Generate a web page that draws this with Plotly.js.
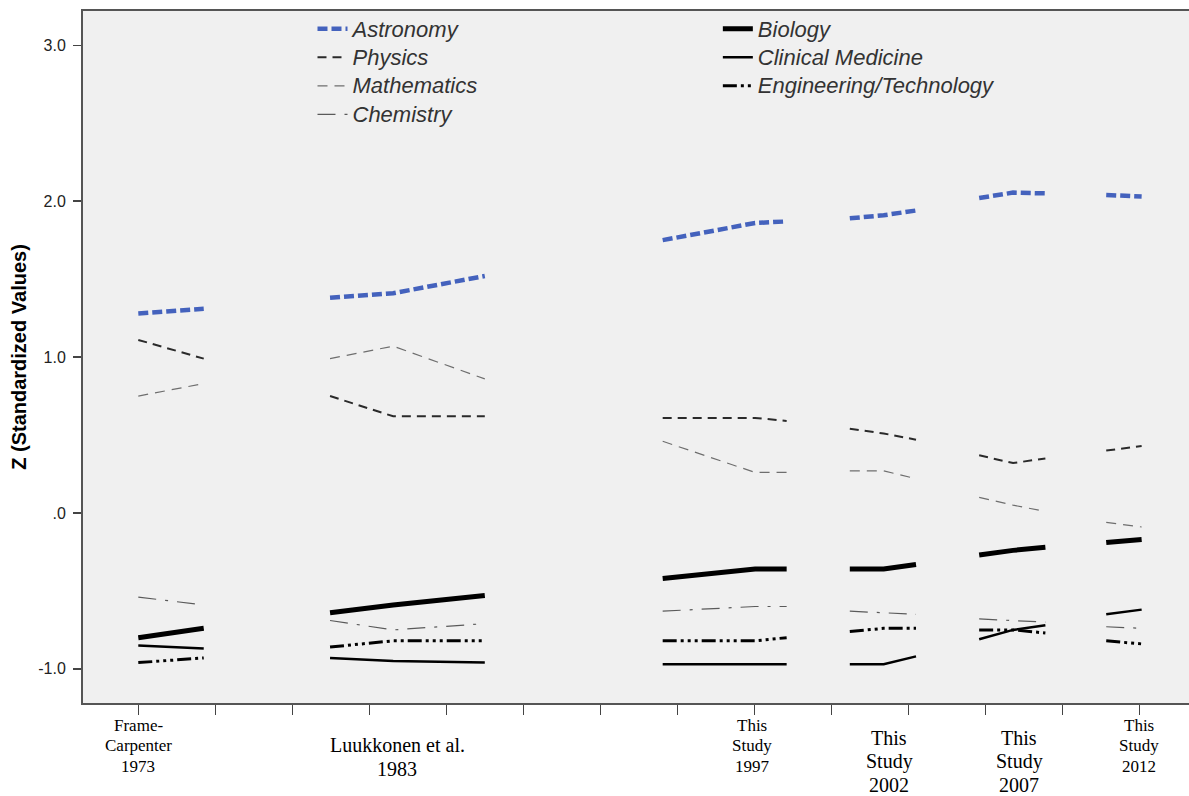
<!DOCTYPE html>
<html>
<head>
<meta charset="utf-8">
<script src="https://cdn.plot.ly/plotly-3.0.1.min.js"></script>
<style>
  html, body { margin: 0; padding: 0; background: #ffffff; overflow: hidden; }
  #chart { width: 1189px; height: 796px; }
</style>
</head>
<body>
<div id="chart"></div>
<script>
// ---- x positions of the data points for each study (axis units; ticks at 1..14) ----
const xFrame = [1.0, 1.85];
const xLuuk  = [3.49, 4.31, 5.50];
const x1997  = [7.81, 9.01, 9.42];
const x2002  = [10.24, 10.68, 11.10];
const x2007  = [11.92, 12.36, 12.78];
const x2012  = [13.57, 14.03];

// ---- Z values per field, grouped by study (Frame, Luukkonen, 1997, 2002, 2007, 2012) ----
const astronomy   = [[1.28, 1.31], [1.38, 1.41, 1.52], [1.75, 1.86, 1.87], [1.89, 1.91, 1.94], [2.02, 2.055, 2.05], [2.04, 2.03]];
const physics     = [[1.11, 0.99], [0.75, 0.62, 0.62], [0.61, 0.61, 0.59], [0.54, 0.51, 0.47], [0.37, 0.32, 0.35], [0.40, 0.43]];
const mathematics = [[0.75, 0.83], [0.99, 1.07, 0.86], [0.46, 0.26, 0.26], [0.27, 0.27, 0.22], [0.10, 0.05, 0.01], [-0.06, -0.09]];
const chemistry   = [[-0.54, -0.59], [-0.69, -0.75, -0.71], [-0.63, -0.60, -0.60], [-0.63, -0.64, -0.65], [-0.68, -0.69, -0.70], [-0.73, -0.74]];
const biology     = [[-0.80, -0.74], [-0.64, -0.59, -0.53], [-0.42, -0.36, -0.36], [-0.36, -0.36, -0.33], [-0.27, -0.24, -0.22], [-0.19, -0.17]];
const clinical    = [[-0.85, -0.87], [-0.93, -0.95, -0.96], [-0.97, -0.97, -0.97], [-0.97, -0.97, -0.92], [-0.81, -0.75, -0.72], [-0.65, -0.62]];
const engineering = [[-0.96, -0.93], [-0.86, -0.82, -0.82], [-0.82, -0.82, -0.80], [-0.76, -0.74, -0.74], [-0.75, -0.75, -0.77], [-0.82, -0.84]];

// ---- axis labels ----
const yTickVals  = [-1, 0, 1, 2, 3];
const yTickText  = ['-1.0', '.0', '1.0', '2.0', '3.0'];
const xTickVals  = [1, 2, 3, 4, 5, 6, 7, 8, 9, 10, 11, 12, 13, 14];
const studyLabels = [
  ['Frame-', 'Carpenter', '1973'],
  ['Luukkonen et al.', '1983'],
  ['This', 'Study', '1997'],
  ['This', 'Study', '2002'],
  ['This', 'Study', '2007'],
  ['This', 'Study', '2012']
];
const studyLabelX = [1.0, 4.36, 8.97, 10.75, 12.44, 14.0];
const studyLabelBig = [false, true, false, true, true, false];

const studyXs = [xFrame, xLuuk, x1997, x2002, x2007, x2012];

function flatten(groups) {
  const xs = [], ys = [];
  groups.forEach((g, i) => {
    if (i > 0) { xs.push(null); ys.push(null); }
    g.forEach((v, j) => { xs.push(studyXs[i][j]); ys.push(v); });
  });
  return {xs, ys};
}

function trace(name, groups, line, legend) {
  const f = flatten(groups);
  return {
    type: 'scatter', mode: 'lines',
    name: '<span style="font-size:22px">' + name + '</span>',
    x: f.xs, y: f.ys, connectgaps: false,
    line: Object.assign({shape: 'linear'}, line),
    legend: legend, hoverinfo: 'y'
  };
}

const data = [
  trace('Astronomy', astronomy, {color: '#4462bd', width: 4.5, dash: '10px,4px'}, 'legend'),
  trace('Physics', physics, {color: '#2a2a2a', width: 2, dash: '9px,6px'}, 'legend'),
  trace('Mathematics', mathematics, {color: '#6e6e6e', width: 1.2, dash: '10px,7px'}, 'legend'),
  trace('Chemistry', chemistry, {color: '#5a5a5a', width: 1.2, dash: '18px,9px,3px,9px'}, 'legend'),
  trace('Biology', biology, {color: '#000000', width: 5}, 'legend2'),
  trace('Clinical Medicine', clinical, {color: '#000000', width: 2.5}, 'legend2'),
  trace('Engineering/Technology', engineering, {color: '#000000', width: 3, dash: '14px,4px,3px,4px,3px,4px,3px,4px'}, 'legend2')
];

// plot area in pixels: top 11, bottom 703
const plotTop = 11, plotBottom = 703;
const toPaper = py => (plotBottom - py) / (plotBottom - plotTop);

const annotations = [];
studyLabels.forEach((lines, i) => {
  const big = studyLabelBig[i];
  const first = big ? (i === 1 ? 745 : 738) : 725;
  const step = big ? 23.5 : 20.5;
  const size = big ? 20 : 17;
  lines.forEach((t, k) => {
    annotations.push({
      text: t, x: studyLabelX[i], xref: 'x', xanchor: 'center',
      y: toPaper(first + k * step), yref: 'paper', yanchor: 'middle',
      showarrow: false, align: 'center', borderpad: 0,
      font: {family: '"Liberation Serif", "Times New Roman", serif', size: size, color: '#000'}
    });
  });
});

const legendFont = {family: '"Liberation Sans", Arial, sans-serif', size: 19.6, color: '#333', style: 'italic'};

const layout = {
  width: 1189, height: 796,
  margin: {l: 83, r: 0, t: 11, b: 93, pad: 0},
  paper_bgcolor: '#ffffff', plot_bgcolor: '#f0f0f0',
  font: {family: '"Liberation Sans", Arial, sans-serif', color: '#222'},
  showlegend: true,
  legend: {x: 0.2075, xanchor: 'left', y: 1.002, yanchor: 'top', bgcolor: 'rgba(0,0,0,0)',
           font: legendFont, orientation: 'v', tracegroupgap: 0, itemclick: false},
  legend2: {x: 0.574, xanchor: 'left', y: 1.002, yanchor: 'top', bgcolor: 'rgba(0,0,0,0)',
            font: legendFont, orientation: 'v', tracegroupgap: 0, itemclick: false},
  xaxis: {
    range: [0.282, 14.645], tickmode: 'array', tickvals: xTickVals,
    ticktext: xTickVals.map(() => ''),
    showgrid: false, zeroline: false, showline: true, linecolor: '#555', linewidth: 2,
    mirror: true, ticks: 'outside', ticklen: 10, tickwidth: 1.5, tickcolor: '#444',
    fixedrange: true
  },
  yaxis: {
    range: [-1.219, 3.220], tickmode: 'array', tickvals: yTickVals, ticktext: yTickText,
    showgrid: false, zeroline: false, showline: true, linecolor: '#555', linewidth: 2,
    ticks: 'outside', ticklen: 8, tickwidth: 1.5, tickcolor: '#444',
    tickfont: {size: 16, color: '#222'}, ticklabelstandoff: 4,
    title: {text: 'Z (Standardized Values)', font: {size: 20, color: '#000', weight: 'bold'}, standoff: 6},
    automargin: false, fixedrange: true
  },
  annotations: annotations
};

Plotly.newPlot('chart', data, layout, {displayModeBar: false, staticPlot: true});
</script>
</body>
</html>
